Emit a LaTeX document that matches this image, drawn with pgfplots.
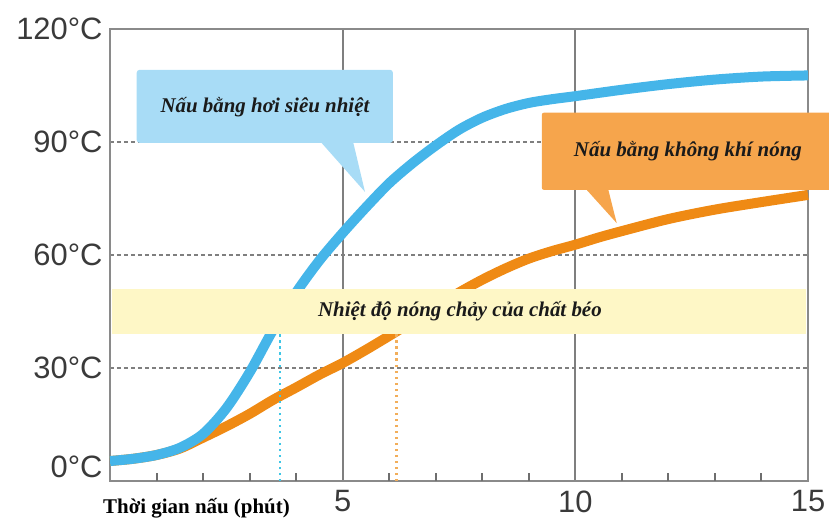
\documentclass[border=0pt]{standalone}
\usepackage{fontspec}
\setmainfont{Liberation Serif}
\newfontfamily\lsans{Liberation Sans}
\usepackage{pgfplots}
\pgfplotsset{compat=1.18}
\definecolor{axgray}{HTML}{8A8A8A}
\definecolor{tickgray}{HTML}{6E6E6E}
\definecolor{gridgray}{HTML}{7F7F7F}
\definecolor{lblgray}{HTML}{3A3A3A}
\definecolor{bluecurve}{HTML}{45B5E9}
\definecolor{orangecurve}{HTML}{EF8A14}
\definecolor{bluebox}{HTML}{A8DCF6}
\definecolor{orangebox}{HTML}{F6A54C}
\definecolor{bandyellow}{HTML}{FEF7C6}
\definecolor{cyandot}{HTML}{3EC6E6}
\definecolor{orangedot}{HTML}{F2AE5A}
\definecolor{txt}{HTML}{1A1A1A}
\begin{document}
\begin{tikzpicture}
\useasboundingbox (-110bp,-37bp) rectangle (719bp,481bp);
\begin{axis}[
  at={(0,0)}, anchor=south west,
  scale only axis, width=698bp, height=452.3bp,
  xmin=0, xmax=15, ymin=0, ymax=120,
  clip=false,
  axis line style={draw=axgray, line width=2bp},
  xtick={5,10,15}, xticklabels={5,10,15},
  ytick={30,60,90,120}, yticklabels={30°C,60°C,90°C,120°C},
  extra y ticks={0}, extra y tick labels={0°C},
  extra y tick style={grid=none, yticklabel style={yshift=14bp}},
  xmajorgrids, ymajorgrids,
  x grid style={draw=gridgray, line width=1.8bp, solid},
  y grid style={draw=gridgray, line width=1.8bp, dash pattern=on 4bp off 3bp},
  major tick length=0pt,
  xtick pos=bottom, ytick pos=left,
  tick label style={font=\lsans\fontsize{31}{31}\selectfont, text=lblgray},
  xticklabel style={yshift=-6bp},
  yticklabel style={xshift=-4bp},
  /pgf/number format/assume math mode=true,
]
% small minute ticks along the bottom axis
\addplot[ycomb, color=tickgray, line width=2bp, mark=none] coordinates {
 (1,2.0) (2,2.0) (3,2.0) (4,2.0) (6,2.0) (7,2.0) (8,2.0) (9,2.0)
 (11,2.0) (12,2.0) (13,2.0) (14,2.0)};
% Air heating (orange)
\addplot[orangecurve, line width=10bp, smooth] coordinates {
 (0,5.3) (0.5,5.9) (1,6.9) (1.5,8.6) (2,11.5) (2.5,14.5) (3,17.8) (3.5,21.5)
 (4,24.8) (4.5,28.2) (5,31.3) (5.5,34.8) (6,38.5) (6.5,42.3) (7,46.2) (7.5,50)
 (8,53.4) (8.5,56.4) (9,59.0) (9.5,61.0) (10,62.7) (10.5,64.6) (11,66.3)
 (12,69.5) (13,72) (14,74) (15,75.9)};
% Superheated steam (blue)
\addplot[bluecurve, line width=10bp, smooth] coordinates {
 (0,5.3) (0.5,5.9) (1,6.9) (1.5,8.8) (2,12.5) (2.5,19.3) (3,28.8) (3.5,40)
 (4,50) (4.5,58.5) (5,65.8) (5.5,72.6) (6,79) (6.5,84.3) (7,89) (7.5,93.2)
 (8,96.4) (8.5,98.7) (9,100.3) (9.5,101.3) (10,102.1) (11,103.8) (12,105.3)
 (13,106.5) (14,107.3) (15,107.6)};
% melting markers
\addplot[cyandot, line width=2.5bp, dash pattern=on 2.5bp off 3.5bp] coordinates {(3.65,0) (3.65,39)};
\addplot[orangedot, line width=2.5bp, dash pattern=on 2.5bp off 3.5bp] coordinates {(6.16,0) (6.16,39)};
% band
\fill[bandyellow] (axis cs:0.04,39) rectangle (axis cs:14.96,51);
\node[font=\bfseries\itshape\fontsize{21}{21}\selectfont, text=txt] at (axis cs:7.52,45) {Nhiệt độ nóng chảy của chất béo};
% blue callout
\fill[bluebox, rounded corners=3bp] (axis cs:0.574,89.7) rectangle (axis cs:6.08,109.1);
\fill[bluebox] (axis cs:4.51,90.2) -- (axis cs:5.48,76.7) -- (axis cs:5.22,90.2) -- cycle;
\node[font=\bfseries\itshape\fontsize{21}{21}\selectfont, text=txt] at (axis cs:3.33,99.2) {Nấu bằng hơi siêu nhiệt};
% orange callout
\fill[orangebox, rounded corners=2bp] (axis cs:9.28,77.25) rectangle (axis cs:15.8,97.7);
\fill[orangebox] (axis cs:10.21,77.7) -- (axis cs:10.89,68.4) -- (axis cs:10.70,77.7) -- cycle;
\node[font=\bfseries\itshape\fontsize{21}{21}\selectfont, text=txt] at (axis cs:12.42,87.6) {Nấu bằng không khí nóng};
% x label
\node[anchor=west, inner sep=0pt, font=\bfseries\fontsize{21}{21}\selectfont, text=black] at (axis cs:-0.15,-7.2) {Thời gian nấu (phút)};
\end{axis}
\end{tikzpicture}
\end{document}
